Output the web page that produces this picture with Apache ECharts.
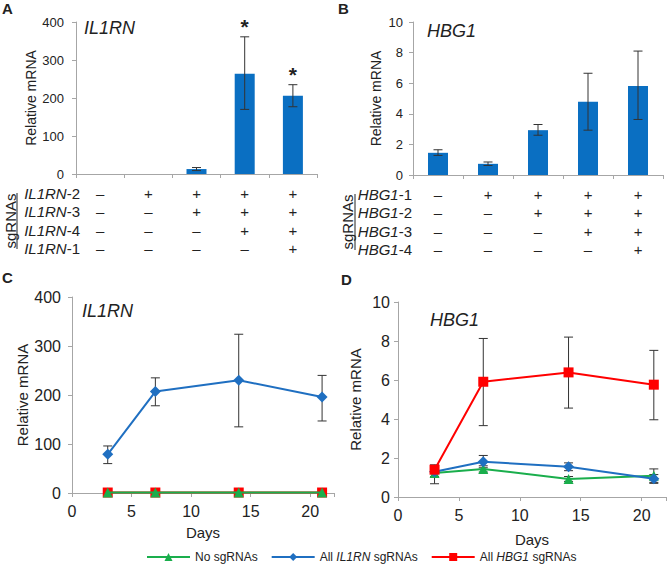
<!DOCTYPE html>
<html><head><meta charset="utf-8">
<script src="https://cdn.jsdelivr.net/npm/echarts@6/dist/echarts.min.js"></script>
<style>html,body{margin:0;padding:0;background:#fff}#c{width:669px;height:566px}</style>
</head><body><div id="c"></div>
<script>
// ---------- Panel A (IL1RN bars) ----------
const aValues   = [0, 0, 13, 264, 206];
const aErrLow   = [0, 0, 9, 170, 177];
const aErrHigh  = [0, 0, 17, 361, 235];
const aSig      = ['', '', '', '*', '*'];
const aRowLabels = ['IL1RN-2', 'IL1RN-3', 'IL1RN-4', 'IL1RN-1'];
const aSigns = [
  ['–', '+', '+', '+', '+'],
  ['–', '–', '+', '+', '+'],
  ['–', '–', '–', '+', '+'],
  ['–', '–', '–', '–', '+']
];
// ---------- Panel B (HBG1 bars) ----------
const bValues   = [1.45, 0.73, 2.93, 4.79, 5.82];
const bErrLow   = [1.28, 0.62, 2.60, 2.93, 3.63];
const bErrHigh  = [1.65, 0.85, 3.30, 6.65, 8.10];
const bRowLabels = ['HBG1-1', 'HBG1-2', 'HBG1-3', 'HBG1-4'];
const bSigns = [
  ['–', '+', '+', '+', '+'],
  ['–', '–', '+', '+', '+'],
  ['–', '–', '–', '+', '+'],
  ['–', '–', '–', '–', '+']
];
// ---------- Panel C (IL1RN time course) ----------
const days = [3, 7, 14, 21];
const cNone       = [1, 1, 1, 1];
const cIL1RN      = [79, 207, 230, 196];
const cIL1RNLow   = [60, 178, 135, 147];
const cIL1RNHigh  = [96, 235, 324, 240];
const cHBG1       = [1, 1, 1, 1];
// ---------- Panel D (HBG1 time course) ----------
const dNone       = [1.23, 1.44, 0.92, 1.09];
const dNoneLow    = [0.68, 1.28, 0.80, 0.75];
const dNoneHigh   = [1.60, 1.60, 1.05, 1.44];
const dIL1RN      = [1.30, 1.81, 1.55, 0.94];
const dIL1RNLow   = [1.05, 1.50, 1.35, 0.70];
const dIL1RNHigh  = [1.60, 2.13, 1.75, 1.15];
const dHBG1       = [1.40, 5.91, 6.39, 5.76];
const dHBG1Low    = [1.20, 3.66, 4.56, 3.96];
const dHBG1High   = [1.65, 8.13, 8.20, 7.52];
const seriesNames = ['No sgRNAs', 'All IL1RN sgRNAs', 'All HBG1 sgRNAs'];

// ---------- styling / layout ----------
const FONT = '"Liberation Sans", Arial, sans-serif';
const TXT = '#222';
const AX = '#a6a6a6';
const BAR = '#0a6fc2';
const GREEN = '#1aae4c', BLUE = '#1f6fc1', RED = '#ff0000';
const G = [
  {left: 76,  top: 22,  width: 241, height: 152},
  {left: 413, top: 22,  width: 250, height: 153},
  {left: 72,  top: 297, width: 262, height: 196},
  {left: 398, top: 302, width: 270, height: 195}
];
const ROW_MARGIN = 10, ROW_LH = 18.5;

function catLabels(signs) {
  return signs[0].map((_, j) => signs.map(r => r[j]).join('\n'));
}
function errRender(cap, sig) {
  return function (params, api) {
    const x = api.value(0), lo = api.value(1), hi = api.value(2);
    const st = {stroke: '#333', lineWidth: 1};
    const children = [];
    if (hi > lo) {
      const p1 = api.coord([x, hi]), p2 = api.coord([x, lo]);
      children.push(
        {type: 'line', shape: {x1: p1[0], y1: p1[1], x2: p2[0], y2: p2[1]}, style: st},
        {type: 'line', shape: {x1: p1[0] - cap / 2, y1: p1[1], x2: p1[0] + cap / 2, y2: p1[1]}, style: st},
        {type: 'line', shape: {x1: p2[0] - cap / 2, y1: p2[1], x2: p2[0] + cap / 2, y2: p2[1]}, style: st}
      );
      if (sig && sig[params.dataIndex]) {
        children.push({type: 'text', x: p1[0], y: p1[1] - 10,
          style: {text: sig[params.dataIndex], font: 'bold 21px ' + FONT, fill: TXT,
                  align: 'center', verticalAlign: 'middle', textAlign: 'center', textVerticalAlign: 'middle'}});
      }
    }
    return {type: 'group', children};
  };
}
function errData(xs, lo, hi) { return xs.map((x, i) => [x, lo[i], hi[i]]); }

function yAxis(gi, max, interval, gap, labelSize, nameSize, margin) {
  return {gridIndex: gi, type: 'value', min: 0, max, interval,
    axisLine: {show: true, lineStyle: {color: AX}},
    axisTick: {show: true, length: 4, lineStyle: {color: AX}},
    splitLine: {show: false},
    axisLabel: {fontSize: labelSize, color: TXT, fontFamily: FONT, margin},
    name: 'Relative mRNA', nameLocation: 'middle', nameGap: gap,
    nameTextStyle: {fontSize: nameSize, color: TXT, fontFamily: FONT}};
}
function xCat(gi, signs) {
  return {gridIndex: gi, type: 'category', data: catLabels(signs),
    axisLine: {show: true, lineStyle: {color: AX}},
    axisTick: {show: true, length: 4, lineStyle: {color: AX}},
    axisLabel: {interval: 0, fontSize: 15, lineHeight: ROW_LH, margin: ROW_MARGIN, color: TXT, fontFamily: FONT}};
}
function xDays(gi, gap) {
  return {gridIndex: gi, type: 'value', min: 0, max: 22, interval: 5,
    axisLine: {show: true, lineStyle: {color: AX}},
    axisTick: {show: true, length: 4, lineStyle: {color: AX}},
    splitLine: {show: false},
    axisLabel: {fontSize: 16, color: TXT, fontFamily: FONT, margin: 10,
      formatter: v => (v % 5 === 0 ? String(v) : '')},
    name: 'Days', nameLocation: 'middle', nameGap: gap,
    nameTextStyle: {fontSize: 15, color: TXT, fontFamily: FONT}};
}
function lineSeries(gi, name, ys, color, symbol, size, z) {
  return {type: 'line', name, xAxisIndex: gi, yAxisIndex: gi,
    data: days.map((d, i) => [d, ys[i]]),
    symbol, symbolSize: size, showSymbol: true,
    lineStyle: {color, width: 2}, itemStyle: {color}, z, animation: false};
}
function errSeries(gi, lo, hi, z) {
  return {type: 'custom', xAxisIndex: gi, yAxisIndex: gi, renderItem: errRender(9),
    data: errData(days, lo, hi), z, silent: true, animation: false, tooltip: {show: false}};
}
function rowGraphics(grid, labels, xRight) {
  const base = grid.top + grid.height + ROW_MARGIN + ROW_LH / 2;
  return labels.map((lab, i) => {
    const parts = lab.split('-');
    return {type: 'text', x: xRight, y: base + i * ROW_LH,
      style: {text: '{i|' + parts[0] + '}-' + parts[1], fontSize: 15, fontFamily: FONT, fill: TXT,
        align: 'right', verticalAlign: 'middle', textAlign: 'right', textVerticalAlign: 'middle',
        rich: {i: {fontStyle: 'italic', fontSize: 15, fontFamily: FONT, fill: TXT}}}};
  });
}
function sgGraphics(grid, cx, ux) {
  const cy = grid.top + grid.height + ROW_MARGIN + ROW_LH * 2;
  const half = 28;
  return [
    {type: 'text', x: cx, y: cy, rotation: Math.PI / 2,
      style: {text: 'sgRNAs', fontSize: 15, fontFamily: FONT, fill: TXT,
        align: 'center', verticalAlign: 'middle', textAlign: 'center', textVerticalAlign: 'middle'}},
    {type: 'line', shape: {x1: ux, y1: cy - half, x2: ux, y2: cy + half}, style: {stroke: TXT, lineWidth: 1}}
  ];
}

const chart = echarts.init(document.getElementById('c'), null, {renderer: 'svg'});
chart.setOption({
  animation: false,
  backgroundColor: '#fff',
  textStyle: {fontFamily: FONT},
  grid: G,
  title: [
    {text: 'A', left: 2, top: 1, padding: 0, textStyle: {fontSize: 15, fontWeight: 'bold', color: TXT, fontFamily: FONT}},
    {text: 'B', left: 338, top: 1, padding: 0, textStyle: {fontSize: 15, fontWeight: 'bold', color: TXT, fontFamily: FONT}},
    {text: 'C', left: 2, top: 270, padding: 0, textStyle: {fontSize: 15, fontWeight: 'bold', color: TXT, fontFamily: FONT}},
    {text: 'D', left: 341, top: 272, padding: 0, textStyle: {fontSize: 15, fontWeight: 'bold', color: TXT, fontFamily: FONT}},
    {text: 'IL1RN', left: 84, top: 19, padding: 0, textStyle: {fontSize: 18, fontStyle: 'italic', fontWeight: 'normal', color: TXT, fontFamily: FONT}},
    {text: 'HBG1', left: 427, top: 22, padding: 0, textStyle: {fontSize: 18, fontStyle: 'italic', fontWeight: 'normal', color: TXT, fontFamily: FONT}},
    {text: 'IL1RN', left: 82, top: 302, padding: 0, textStyle: {fontSize: 18, fontStyle: 'italic', fontWeight: 'normal', color: TXT, fontFamily: FONT}},
    {text: 'HBG1', left: 430, top: 311, padding: 0, textStyle: {fontSize: 18, fontStyle: 'italic', fontWeight: 'normal', color: TXT, fontFamily: FONT}}
  ],
  legend: {
    data: seriesNames, left: 144, top: 549, itemWidth: 43, itemHeight: 10, itemGap: 13, padding: 2,
    textStyle: {fontSize: 12, color: TXT, fontFamily: FONT, rich: {i: {fontStyle: 'italic', fontSize: 12, fontFamily: FONT, color: TXT}}},
    formatter: name => name.replace(/(IL1RN|HBG1)/, '{i|$1}')
  },
  xAxis: [xCat(0, aSigns), xCat(1, bSigns), xDays(2, 32), xDays(3, 35)],
  yAxis: [
    yAxis(0, 400, 100, 33, 13, 14, 12),
    yAxis(1, 10, 2, 30, 13, 14, 10),
    yAxis(2, 400, 100, 40, 16, 15, 11),
    yAxis(3, 10, 2, 35, 16, 15, 8)
  ],
  series: [
    {type: 'bar', xAxisIndex: 0, yAxisIndex: 0, data: aValues, barWidth: 20,
      itemStyle: {color: BAR}, z: 2},
    {type: 'custom', xAxisIndex: 0, yAxisIndex: 0, renderItem: errRender(9, aSig),
      data: errData([0, 1, 2, 3, 4], aErrLow, aErrHigh), z: 3, silent: true},
    {type: 'bar', xAxisIndex: 1, yAxisIndex: 1, data: bValues, barWidth: 20,
      itemStyle: {color: BAR}, z: 2},
    {type: 'custom', xAxisIndex: 1, yAxisIndex: 1, renderItem: errRender(9),
      data: errData([0, 1, 2, 3, 4], bErrLow, bErrHigh), z: 3, silent: true},
    // Panel C
    errSeries(2, cIL1RNLow, cIL1RNHigh, 1),
    lineSeries(2, seriesNames[2], cHBG1, RED, 'rect', 10, 2),
    lineSeries(2, seriesNames[1], cIL1RN, BLUE, 'diamond', 11, 3),
    lineSeries(2, seriesNames[0], cNone, GREEN, 'triangle', 10, 4),
    // Panel D
    errSeries(3, dNoneLow, dNoneHigh, 1),
    errSeries(3, dIL1RNLow, dIL1RNHigh, 1),
    errSeries(3, dHBG1Low, dHBG1High, 1),
    lineSeries(3, seriesNames[0], dNone, GREEN, 'triangle', 10, 2),
    lineSeries(3, seriesNames[1], dIL1RN, BLUE, 'diamond', 11, 3),
    lineSeries(3, seriesNames[2], dHBG1, RED, 'rect', 10, 4)
  ],
  graphic: [].concat(
    rowGraphics(G[0], aRowLabels, 80),
    rowGraphics(G[1], bRowLabels, 412),
    sgGraphics(G[0], 10, 17),
    sgGraphics(G[1], 347, 355)
  )
});
</script>
</body></html>
